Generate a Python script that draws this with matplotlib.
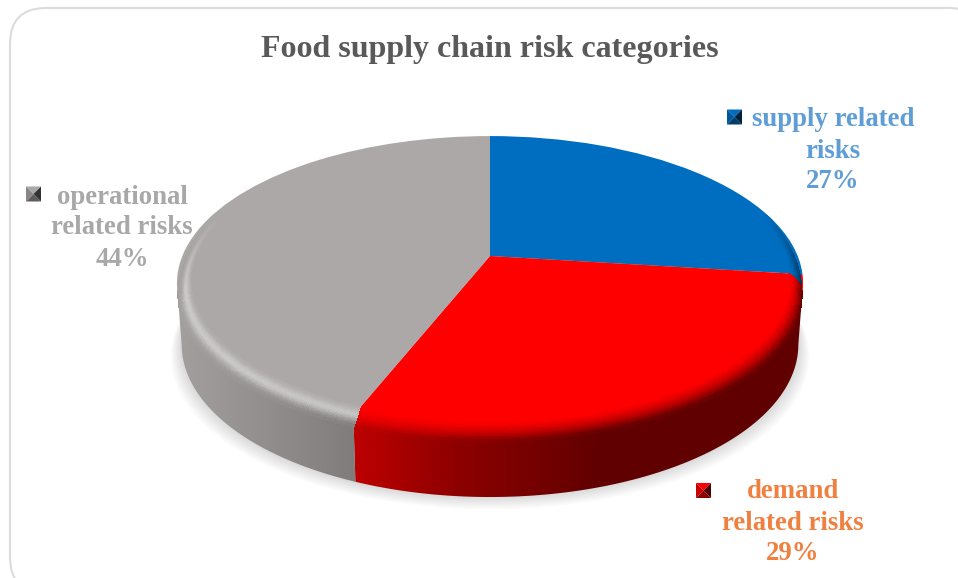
import numpy as np
import matplotlib
matplotlib.use("Agg")
import matplotlib.pyplot as plt
from matplotlib.collections import PolyCollection
from matplotlib.colors import to_rgb
from matplotlib.patches import FancyBboxPatch, Polygon
from matplotlib.transforms import Transform

categories = ["supply related\nrisks", "demand\nrelated risks", "operational\nrelated risks"]
values = [27, 29, 44]
slice_colors = ["#006ec0", "#ff0000", "#aca8a7"]
label_colors = ["#5f9dd6", "#f08040", "#a8a8a8"]
rim_glow = [0.0, 0.0, 0.4]
title = "Food supply chain risk categories"

label_pos = [(833, 120), (793, 492), (122, 197)]
key_pos = [(734.5, 117), (703.5, 490.5), (33.5, 194)]

# disc geometry in pixels
CX, APEX_Y = 490, 256
A, B, K = 307.7, 142.0, 0.184
RIM_DEPTH = 12
RIM_IN, RIM_OUT = 0.958, 0.996


def project(u, v):
    # unit circle -> tilted disc, with perspective so the centre sits off-middle
    w = 1 + K * v
    return CX + A * u / w, APEX_Y - B * v / w


class DiscTransform(Transform):
    input_dims = 2
    output_dims = 2
    is_separable = False
    has_inverse = False

    def transform_non_affine(self, values):
        values = np.asarray(values)
        x, y = project(values[:, 0], values[:, 1])
        return np.column_stack([x, y])


def side_shade(x):
    return np.interp(x, [177, 355, 460, 600, 803], [0.95, 0.74, 0.55, 0.38, 0.38])


def base_edge(theta, grow=1.0):
    u, v = np.sin(theta), np.cos(theta)
    x, y = project(u, v)
    return CX + 0.985 * grow * (x - CX), y + 60 - 7 * v + (grow - 1) * 350


def slice_index(theta):
    return np.clip(np.searchsorted(edges, theta, side="right") - 1, 0, len(values) - 1)


fig = plt.figure(figsize=(9.58, 5.78), dpi=100)
ax = fig.add_axes([0, 0, 1, 1])

edges = np.concatenate([[0], np.cumsum(values)]) / sum(values) * 2 * np.pi
thetas = np.linspace(0, 2 * np.pi, 1081)
mid = (thetas[:-1] + thetas[1:]) / 2

# top face
wedges = ax.pie(values, colors=slice_colors, startangle=90, counterclock=False,
                radius=1.0, wedgeprops={"linewidth": 0})[0]
disc = DiscTransform()
for w in wedges:
    w.set_transform(disc + ax.transData)
    w.set_zorder(4)

ax.set_aspect("auto")
ax.set_xlim(0, 958)
ax.set_ylim(578, 0)
ax.axis("off")

# frame, running off the right and bottom of the figure
ax.add_patch(FancyBboxPatch((10, 8), 975, 585, boxstyle="round,pad=0,rounding_size=36",
                            fc="white", ec="#dcdcdc", lw=1.5, zorder=0))

# soft shadow under the disc
for grow in np.linspace(1.035, 1.0, 10):
    sx, sy = base_edge(thetas, grow)
    ax.add_patch(Polygon(np.column_stack([sx, sy]), closed=True, fc="black", ec="none",
                         alpha=0.014, zorder=1))

# side wall: a horizontal gradient per slice, clipped to the wall outline.
# only the part below the widest points of the disc can be seen
xs = np.arange(958) + 0.5
for i, col in enumerate(slice_colors):
    t = np.linspace(edges[i], edges[i + 1], 600)
    t = t[np.cos(t) <= -K]
    if len(t) == 0:
        continue
    tx, ty = project(np.sin(t), np.cos(t))
    bx, by = base_edge(t)
    outline = np.column_stack([np.r_[tx, bx[::-1]], np.r_[ty, by[::-1]]])
    grad = np.outer(side_shade(xs), to_rgb(col))[np.newaxis, :, :]
    im = ax.imshow(grad, extent=(0, 958, 578, 0), aspect="auto", zorder=2, interpolation="bilinear")
    clip = Polygon(outline, closed=True, transform=ax.transData)
    im.set_clip_path(clip)

# rounded bevel between top face and wall
polys, cols = [], []
steps = np.linspace(0, 1, 15)
for i in range(len(mid)):
    t0, t1 = thetas[i], thetas[i + 1]
    weight = np.clip((0.3 - np.cos(mid[i])) / 0.5, 0, 1)
    if weight == 0:
        continue
    idx = slice_index(mid[i])
    base = np.array(to_rgb(slice_colors[idx]))
    for s0, s1 in zip(steps[:-1], steps[1:]):
        r0 = RIM_IN + (RIM_OUT - RIM_IN) * s0
        r1 = RIM_IN + (RIM_OUT - RIM_IN) * s1
        ax0, ay0 = project(r0 * np.sin(t0), r0 * np.cos(t0))
        ax1, ay1 = project(r0 * np.sin(t1), r0 * np.cos(t1))
        cx1, cy1 = project(r1 * np.sin(t1), r1 * np.cos(t1))
        cx0, cy0 = project(r1 * np.sin(t0), r1 * np.cos(t0))
        d0, d1 = RIM_DEPTH * s0 * weight, RIM_DEPTH * s1 * weight
        polys.append([(ax0, ay0 + d0), (ax1, ay1 + d0), (cx1, cy1 + d1), (cx0, cy0 + d1)])
        s = (s0 + s1) / 2
        edge_col = base * side_shade((ax0 + ax1) / 2)
        col = base + (edge_col - base) * (s ** 1.6) * weight
        glow = rim_glow[idx] * np.exp(-((s - 0.45) / 0.28) ** 2) * weight
        cols.append(col + (1 - col) * glow)
ax.add_collection(PolyCollection(polys, facecolors=cols, edgecolors="face", linewidths=0.5,
                                 antialiaseds=False, zorder=5))

# title and labels
serif = "Liberation Serif"
ax.text(490, 50, title, ha="center", va="center", family=serif, weight="bold",
        fontsize=23, color="#595959", zorder=6)
for name, val, col, (lx, ly) in zip(categories, values, label_colors, label_pos):
    lines = name.split("\n") + [f"{val}%"]
    for n, line in enumerate(lines):
        ax.text(lx, ly + n * 31, line, ha="center", va="center", family=serif,
                weight="bold", fontsize=19.3, color=col, zorder=6)

# small bevelled legend keys
for col, (kx, ky) in zip(slice_colors, key_pos):
    c = np.array(to_rgb(col))
    h = 7.5
    corners = [(kx - h, ky - h), (kx + h, ky - h), (kx + h, ky + h), (kx - h, ky + h)]
    shades = [1.0, 0.3, 0.55, 0.8]
    for n, shade in enumerate(shades):
        ax.add_patch(Polygon([corners[n], corners[(n + 1) % 4], (kx, ky)], closed=True,
                             fc=c * shade, ec="none", zorder=6))

ax.set_xlim(0, 958)
ax.set_ylim(578, 0)
fig.savefig("out.png", dpi=100)
